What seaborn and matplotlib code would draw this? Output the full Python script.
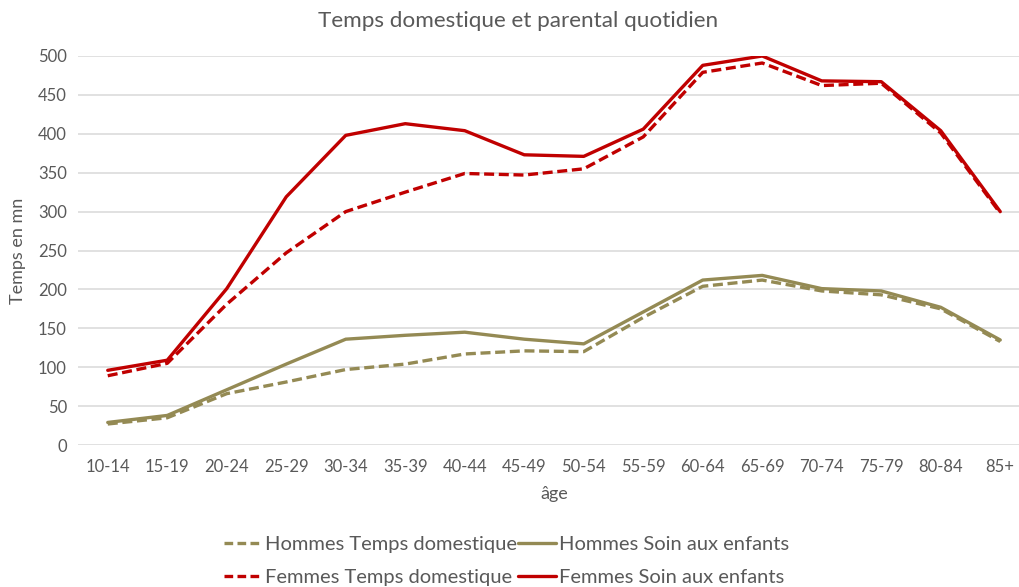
import pandas as pd
import seaborn as sns
import matplotlib.pyplot as plt

# age groups on the x axis
ages = ['10-14', '15-19', '20-24', '25-29', '30-34', '35-39', '40-44', '45-49',
        '50-54', '55-59', '60-64', '65-69', '70-74', '75-79', '80-84', '85+']

# daily minutes
hommes_domestique = [27, 35, 66, 81, 97, 104, 117, 121, 120, 164, 204, 212, 198, 193, 175, 133]
hommes_enfants = [29, 38, 71, 104, 136, 141, 145, 136, 130, 171, 212, 218, 201, 198, 177, 135]
femmes_domestique = [89, 105, 181, 247, 300, 325, 349, 347, 355, 396, 479, 491, 462, 465, 401, 298]
femmes_enfants = [96, 109, 201, 319, 398, 413, 404, 373, 371, 406, 488, 500, 468, 467, 404, 300]

series_names = ['Hommes Temps domestique', 'Femmes Temps domestique',
                'Hommes Soin aux enfants', 'Femmes Soin aux enfants']
series_values = [hommes_domestique, femmes_domestique, hommes_enfants, femmes_enfants]

OLIVE = '#948A54'
RED = '#C00000'
palette = {series_names[0]: OLIVE, series_names[1]: RED,
           series_names[2]: OLIVE, series_names[3]: RED}
dashes = {series_names[0]: (3, 1.4), series_names[1]: (3, 1.4),
          series_names[2]: '', series_names[3]: ''}

frames = []
for name, vals in zip(series_names, series_values):
    frames.append(pd.DataFrame({'age': ages, 'minutes': vals, 'serie': name}))
df = pd.concat(frames, ignore_index=True)

sns.set_style('white')
plt.rcParams['font.family'] = ['Lato', 'DejaVu Sans']

fig = plt.figure(figsize=(10.19, 5.87), dpi=100)
ax = fig.add_axes([78 / 1019, 142 / 587, 952 / 1019, 389 / 587])

sns.lineplot(data=df, x='age', y='minutes', hue='serie', style='serie',
             hue_order=series_names, style_order=series_names,
             palette=palette, dashes=dashes, linewidth=2.4, sort=False,
             legend=False, ax=ax)

ax.set_xlim(-0.5, len(ages) - 0.5)
ax.set_ylim(0, 500)
ax.set_yticks(range(0, 501, 50))
ax.yaxis.grid(True, color='#D9D9D9', linewidth=1.1)
ax.set_axisbelow(True)
for s in ax.spines.values():
    s.set_visible(False)
ax.tick_params(axis='both', length=0, labelsize=12, colors='#595959', pad=8)
ax.tick_params(axis='x', pad=10)

ax.set_xlabel('âge', fontsize=13, color='#595959', labelpad=8)
ax.set_ylabel('Temps en mn', fontsize=13, color='#595959', labelpad=9)
fig.suptitle('Temps domestique et parental quotidien', x=0.508, y=0.982,
             fontsize=16.2, color='#595959')

# legend handles: shorter dashes so three dashes fit in the sample
handles = []
for name in series_names:
    ls = (0, (2.6, 1.3)) if 'domestique' in name else '-'
    h, = ax.plot([], [], color=palette[name], linestyle=ls, linewidth=2.4)
    handles.append(h)
fig.legend(handles, series_names, ncol=2, loc='upper center',
           bbox_to_anchor=(0.497, 0.118), frameon=False, fontsize=14.5,
           labelcolor='#595959', handlelength=1.9, handletextpad=0.15,
           columnspacing=0.05, labelspacing=0.8)

fig.savefig('out.png', dpi=100)
